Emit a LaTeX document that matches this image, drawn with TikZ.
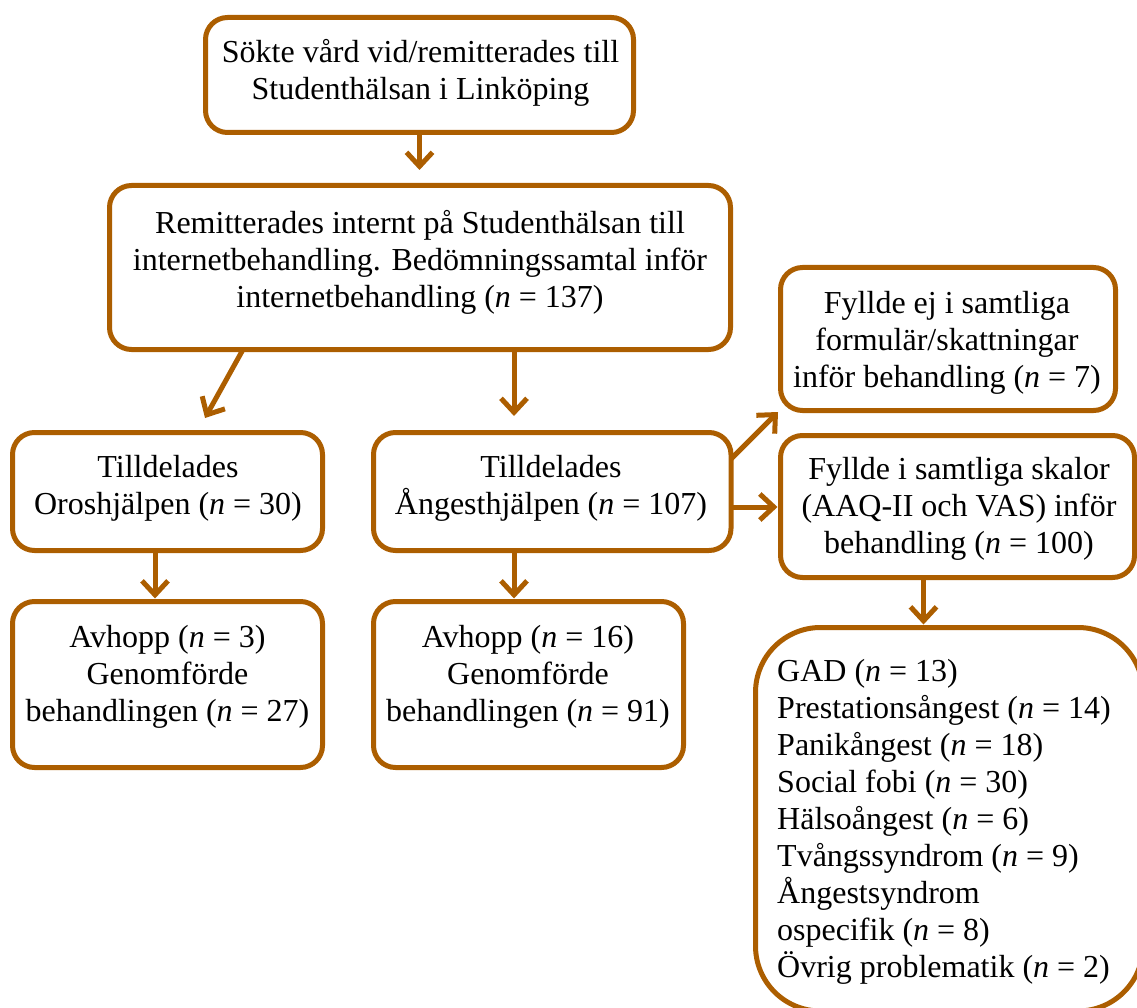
\documentclass[tikz,border=0pt]{standalone}
\usepackage{fontspec}
\setmainfont{Liberation Serif}
\usetikzlibrary{arrows.meta,calc}
\definecolor{brn}{RGB}{172,94,0}
\begin{document}
\begin{tikzpicture}[x=1pt,y=-1pt,
  box/.style={draw=brn, line width=5pt, rounded corners=22pt, inner sep=0pt, outer sep=0pt, fill=white},
  txt/.style={font=\fontsize{32}{37}\selectfont, align=center, inner sep=0pt},
  arr/.style={draw=brn, line width=5pt, -{Straight Barb[length=14pt,width=26pt]}}]
\useasboundingbox (0,0) rectangle (1137,1008);
\clip (0,0) rectangle (1137,1008);
% boxes
\node[box, minimum width=428pt, minimum height=115pt] (b1) at (419.5,75) {};
\node[box, minimum width=621pt, minimum height=164pt] (b2) at (420,267.5) {};
\node[box, minimum width=310pt, minimum height=118pt] (oro) at (167.5,491.5) {};
\node[box, minimum width=357.5pt, minimum height=118pt] (ang) at (552.25,491.5) {};
\node[box, minimum width=310pt, minimum height=166pt] (av1) at (167.5,684.5) {};
\node[box, minimum width=310pt, minimum height=166pt] (av2) at (528.5,684.5) {};
\node[box, minimum width=335pt, minimum height=143pt] (fe) at (948,339) {};
\node[box, minimum width=354pt, minimum height=142pt] (fi) at (957.5,506.5) {};
\node[box, rounded corners=65pt, minimum width=387.5pt, minimum height=383.5pt] (gad) at (949.25,819.25) {};
% texts
\node[txt] (t1) at (420.5,72.7) {Sökte vård vid/remitterades till\\Studenthälsan i Linköping};
\node[txt] (t2) at (420,262.5) {Remitterades internt på Studenthälsan till\\internetbehandling. Bedömningssamtal inför\\internetbehandling (\textit{n} = 137)};
\node[txt] (t3) at (168,488.5) {Tilldelades\\Oroshjälpen (\textit{n} = 30)};
\node[txt] (t4) at (551,488.5) {Tilldelades\\Ångesthjälpen (\textit{n} = 107)};
\node[txt] (t5) at (167.5,676.7) {Avhopp (\textit{n} = 3)\\Genomförde\\behandlingen (\textit{n} = 27)};
\node[txt] (t6) at (528,676.7) {Avhopp (\textit{n} = 16)\\Genomförde\\behandlingen (\textit{n} = 91)};
\node[txt] (t7) at (947,342.5) {Fyllde ej i samtliga\\formulär/skattningar\\inför behandling (\textit{n} = 7)};
\node[txt] (t8) at (959,509.2) {Fyllde i samtliga skalor\\(AAQ-II och VAS) inför\\behandling (\textit{n} = 100)};
\node[txt, align=left, anchor=west] (t9) at (777,821.7) {GAD (\textit{n} = 13)\\Prestationsångest (\textit{n} = 14)\\Panikångest (\textit{n} = 18)\\Social fobi (\textit{n} = 30)\\Hälsoångest (\textit{n} = 6)\\Tvångssyndrom (\textit{n} = 9)\\Ångestsyndrom\\ospecifik (\textit{n} = 8)\\Övrig problematik (\textit{n} = 2)};
% connectors
\draw[arr] (b1.south) -- ($(b1.south |- b2.north)+(0,-15.5)$);
\draw[arr] ($(b2.south west)+(133.5,0)$) -- ($(oro.north west)+(192.5,-14.5)$);
\draw[arr] ($(b2.south west)+(404.5,0)$) -- ($(ang.north west)+(140.5,-16.5)$);
\draw[arr] ($(oro.south west)+(142.5,0)$) -- ($(av1.north west)+(142.5,-3)$);
\draw[arr] ($(ang.south west)+(140.5,0)$) -- ($(av2.north west)+(140.5,-3)$);
\draw[arr] ($(ang.north east)+(0,26.5)$) -- ($(fe.south west)+(-2.5,1.5)$);
\draw[arr] ($(ang.east)+(0,15.5)$) -- ($(fi.west)+(-3,0.5)$);
\draw[arr] ($(fi.south west)+(143,0)$) -- ($(gad.north west)+(168,-3)$);
\end{tikzpicture}
\end{document}
